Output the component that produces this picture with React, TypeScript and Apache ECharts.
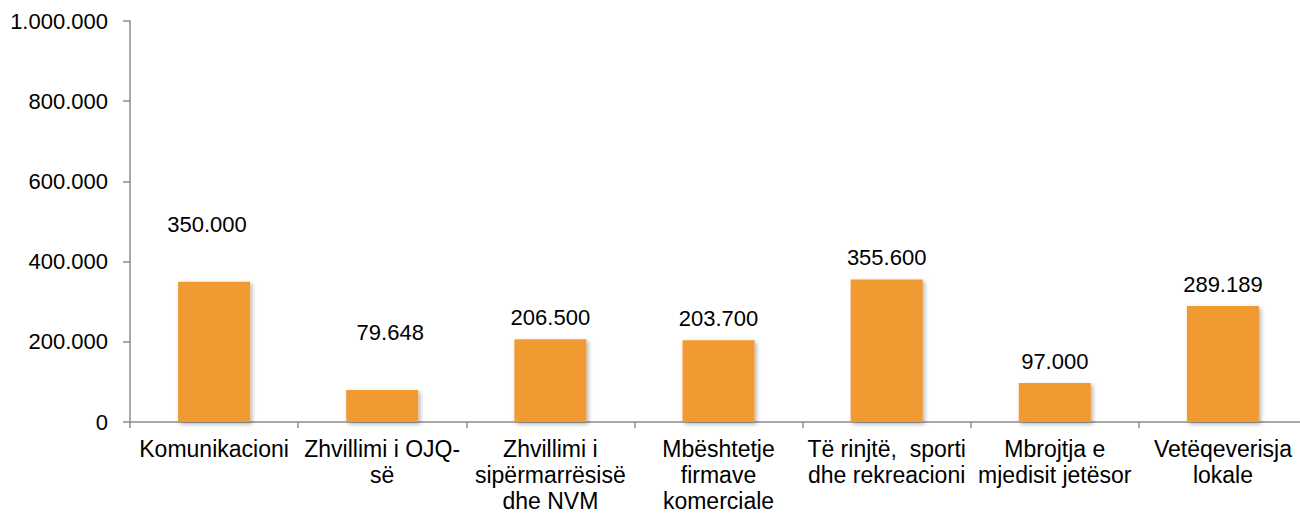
import React, { useEffect, useRef } from "react";
import * as echarts from "echarts";

const categories: string[] = [
  "Komunikacioni",
  "Zhvillimi i OJQ-\nsë",
  "Zhvillimi i\nsipërmarrësisë\ndhe NVM",
  "Mbështetje\nfirmave\nkomerciale",
  "Të rinjtë,  sporti\ndhe rekreacioni",
  "Mbrojtja e\nmjedisit jetësor",
  "Vetëqeverisja\nlokale",
];
const values: number[] = [350000, 79648, 206500, 203700, 355600, 97000, 289189];
const labelOffsets: number[][] = [[-7, -35], [8, -36], [0, 0], [0, 0], [0, 0], [0, 0], [0, 0]];

const fmt = (v: number): string =>
  String(Math.round(v)).replace(/\B(?=(\d{3})+(?!\d))/g, ".");

const FONT = "'Liberation Sans', Arial, sans-serif";

export default function App() {
  const ref = useRef<HTMLDivElement>(null);
  useEffect(() => {
    if (!ref.current) return;
    const chart = echarts.init(ref.current, undefined, { renderer: "svg" });
    chart.setOption({
      animation: false,
      textStyle: { fontFamily: FONT },
      grid: {
        left: 130,
        top: 21,
        width: 1177,
        height: 401,
        containLabel: false,
        outerBoundsMode: "none",
      },
      xAxis: {
        type: "category",
        data: categories,
        axisLine: { lineStyle: { color: "#8c8c8c", width: 1.5 } },
        axisTick: { show: true, length: 6, alignWithLabel: false, lineStyle: { color: "#8c8c8c", width: 1.5 } },
        axisLabel: {
          interval: 0,
          color: "#000",
          fontSize: 23,
          lineHeight: 26,
          margin: 14,
          fontFamily: FONT,
          hideOverlap: false,
        },
      },
      yAxis: {
        type: "value",
        min: 0,
        max: 1000000,
        interval: 200000,
        splitLine: { show: false },
        axisLine: { show: true, lineStyle: { color: "#8c8c8c", width: 1.5 } },
        axisTick: { show: true, length: 7, inside: false, lineStyle: { color: "#8c8c8c", width: 1.5 } },
        axisLabel: {
          color: "#000",
          fontSize: 22,
          margin: 22,
          fontFamily: FONT,
          formatter: (v: number) => fmt(v),
        },
      },
      series: [
        {
          type: "bar",
          barWidth: 72,
          data: values.map((v, i) => ({
            value: v,
            label: { offset: labelOffsets[i] },
          })),
          itemStyle: {
            color: "#F19A30",
            shadowColor: "rgba(0,0,0,0.3)",
            shadowBlur: 4,
            shadowOffsetX: 2,
            shadowOffsetY: 2,
          },
          label: {
            show: true,
            position: "top",
            distance: 11,
            color: "#000",
            fontSize: 22,
            fontFamily: FONT,
            formatter: (p: any) => fmt(p.value),
          },
        },
      ],
    });
    return () => chart.dispose();
  }, []);
  return (
    <div
      ref={ref}
      style={{ position: "absolute", left: 0, top: 0, width: 1300, height: 514, overflow: "hidden" }}
    />
  );
}
